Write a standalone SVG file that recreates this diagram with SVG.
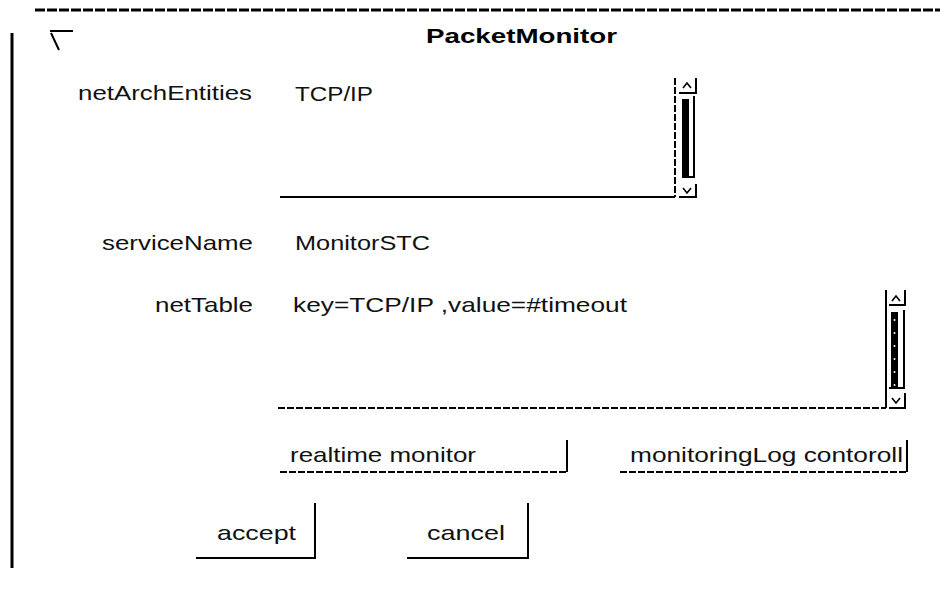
<svg xmlns="http://www.w3.org/2000/svg" width="951" height="590" viewBox="0 0 951 590">
  <style>
    .lbl { font-family: "Liberation Sans", Arial, sans-serif; font-size: 21px; fill: #111; }
    .ttl { font-family: "Liberation Sans", Arial, sans-serif; font-size: 21px; font-weight: bold; fill: #000; }
    .ln { stroke: #000; stroke-width: 2; fill: none; }
    .dash { stroke: #000; stroke-width: 2; fill: none; stroke-dasharray: 7 2; }
    .caret { stroke: #000; stroke-width: 1.6; fill: none; }
  </style>
  <rect width="951" height="590" fill="#fff"/>

  <!-- window frame -->
  <g id="frame">
    <line x1="35" y1="10" x2="940" y2="10" stroke="#000" stroke-width="3" stroke-dasharray="10 2"/>
    <line x1="12" y1="33" x2="12" y2="568" stroke="#000" stroke-width="3"/>
    <path class="ln" d="M50 31 H73 M51 33 L59 50"/>
    <text class="ttl" x="426" y="43" textLength="191" lengthAdjust="spacingAndGlyphs">PacketMonitor</text>
  </g>

  <!-- netArchEntities list -->
  <g id="netArchEntities">
    <text class="lbl" x="78" y="100" textLength="174" lengthAdjust="spacingAndGlyphs">netArchEntities</text>
    <text class="lbl" x="295" y="101" textLength="78" lengthAdjust="spacingAndGlyphs">TCP/IP</text>
    <line class="ln" x1="280" y1="197" x2="675" y2="197"/>
    <line class="dash" x1="675" y1="78" x2="675" y2="197" stroke-dasharray="6 2"/>
    <g id="scroll1">
      <path class="ln" d="M679 93 H696 V78"/>
      <path class="caret" d="M683 88 L687 83 L691 88"/>
      <rect x="682" y="99" width="7" height="77" fill="#000"/>
      <path class="ln" stroke-width="1.5" d="M682 177 H694 V96"/>
      <path class="ln" d="M679 197 H696 V184"/>
      <path class="caret" d="M683 188 L687 193 L691 188"/>
    </g>
  </g>

  <!-- serviceName field -->
  <g id="serviceName">
    <text class="lbl" x="102" y="250" textLength="151" lengthAdjust="spacingAndGlyphs">serviceName</text>
    <text class="lbl" x="295" y="250" textLength="135" lengthAdjust="spacingAndGlyphs">MonitorSTC</text>
  </g>

  <!-- netTable list -->
  <g id="netTable">
    <text class="lbl" x="155" y="312" textLength="98" lengthAdjust="spacingAndGlyphs">netTable</text>
    <text class="lbl" x="293" y="312" textLength="334" lengthAdjust="spacingAndGlyphs">key=TCP/IP ,value=#timeout</text>
    <line class="dash" x1="278" y1="408" x2="886" y2="408"/>
    <line class="ln" x1="886" y1="290" x2="886" y2="408"/>
    <g id="scroll2">
      <path class="ln" d="M889 305 H905 V290"/>
      <path class="caret" d="M892 301 L896 296 L900 301"/>
      <rect x="891" y="312" width="7" height="75" fill="#000"/>
      <g fill="#fff">
        <circle cx="894.5" cy="320" r="1"/>
        <circle cx="894.5" cy="333" r="1"/>
        <circle cx="894.5" cy="346" r="1"/>
        <circle cx="894.5" cy="359" r="1"/>
        <circle cx="894.5" cy="372" r="1"/>
        <circle cx="894.5" cy="385" r="1"/>
      </g>
      <path class="ln" stroke-width="1.5" d="M889 388 H904 V310"/>
      <path class="ln" d="M889 408 H905 V393"/>
      <path class="caret" d="M892 398 L896 403 L900 398"/>
    </g>
  </g>

  <!-- action buttons -->
  <g id="btnRealtime">
    <text class="lbl" x="290" y="462" textLength="186" lengthAdjust="spacingAndGlyphs">realtime monitor</text>
    <line class="dash" x1="280" y1="472" x2="567" y2="472"/>
    <line class="ln" x1="567" y1="440" x2="567" y2="472"/>
  </g>
  <g id="btnLog">
    <text class="lbl" x="630" y="462" textLength="273" lengthAdjust="spacingAndGlyphs">monitoringLog contoroll</text>
    <line class="dash" x1="620" y1="472" x2="907" y2="472"/>
    <line class="ln" x1="907" y1="440" x2="907" y2="472"/>
  </g>
  <g id="btnAccept">
    <text class="lbl" x="217" y="540" textLength="79" lengthAdjust="spacingAndGlyphs">accept</text>
    <path class="ln" d="M196 558 H315 V503"/>
  </g>
  <g id="btnCancel">
    <text class="lbl" x="427" y="540" textLength="78" lengthAdjust="spacingAndGlyphs">cancel</text>
    <path class="ln" d="M407 558 H528 V503"/>
  </g>
</svg>
